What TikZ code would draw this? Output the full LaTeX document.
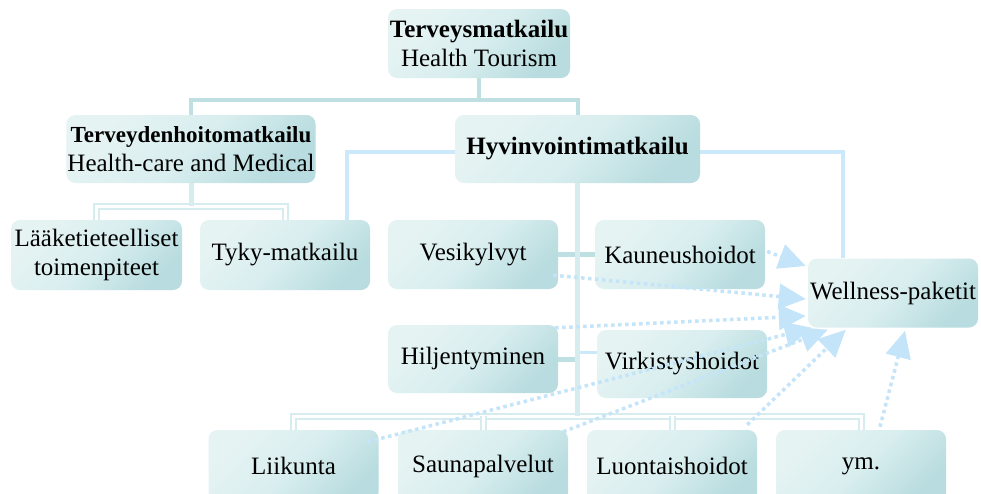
\documentclass[tikz,border=0pt]{standalone}
\usepackage{fontspec}
\setmainfont{Liberation Serif}
\usetikzlibrary{arrows.meta,calc,backgrounds}
\definecolor{boxlight}{HTML}{E6F3F3}
\definecolor{boxmid}{HTML}{D9EEEF}
\definecolor{boxdark}{HTML}{B8DCDF}
\definecolor{tealline}{HTML}{BFE0E3}
\definecolor{paleline}{HTML}{D6ECEE}
\definecolor{blueline}{HTML}{CBE9FA}
\definecolor{arrowblue}{HTML}{C4E5F9}
\begin{document}
\begin{tikzpicture}[x=1pt,y=-1pt,
  box/.style={rounded corners=9pt, top color=boxlight, bottom color=boxdark,
    middle color=boxmid, shading angle=45, minimum width=170pt,
    minimum height=69pt, inner sep=1pt, align=center,
    font=\fontsize{25}{29.5}\selectfont},
  conA/.style={draw=tealline, line width=4pt},
  conB/.style={draw=blueline, line width=4pt},
  conC/.style={draw=paleline, line width=2pt, double=white, double distance=3pt},
  dotarrow/.style={draw=arrowblue, line width=3.5pt, dash pattern=on 3.5pt off 3.5pt,
    -{Triangle[length=27pt,width=25pt,fill=arrowblue]}}]
\useasboundingbox (0,0) rectangle (981,493);

% bus coordinates
\coordinate (b1) at (479,100);
\coordinate (b2) at (191,206);
\coordinate (b3) at (577.5,416);

% nodes
\path (479,43.5) node[box, minimum width=182pt] (top) {\textbf{Terveysmatkailu}\\Health Tourism};
\path (191,149) node[box, minimum width=246pt, minimum height=68pt] (tdh) {{\fontsize{23}{29.5}\selectfont\textbf{Terveydenhoitomatkailu}}\\Health-care and Medical};
\path (577.5,149) node[box, minimum width=245pt, minimum height=68pt] (hyv) {\raisebox{-3pt}{\textbf{Hyvinvointimatkailu}}};
\path (96.5,255) node[box, minimum width=171pt, minimum height=70pt] (laak) {Lääketieteelliset\\toimenpiteet};
\path (285,255) node[box, minimum height=70pt] (tyky) {Tyky-matkailu};
\path (473,254.5) node[box] (vesi) {Vesikylvyt};
\path (680,254.5) node[box] (kaun) {Kauneushoidot};
\path (893,293) node[box] (well) {Wellness-paketit};
\path (473,359) node[box, minimum height=68pt] (hilj) {Hiljentyminen};
\path (682,364) node[box, minimum height=68pt] (virk) {Virkistyshoidot};
\path (293.5,466) node[box, minimum height=72pt] (liik) {Liikunta};
\path (483,466) node[box, minimum height=72pt] (sauna) {Saunapalvelut};
\path (672,466) node[box, minimum height=72pt] (luont) {Luontaishoidot};
\path (861,466) node[box, minimum height=72pt] (ym) {ym.};

% connectors behind the boxes
\begin{scope}[on background layer]
\fill[white] (0,0) rectangle (981,493);
\draw[conA] (top.south) -- (b1);
\draw[conA] (b1) -| (tdh.north);
\draw[conA] (b1) -| (hyv.north);
\draw[conC] (laak.north) |- (b2) -| (tyky.north);
\draw[conA, draw=paleline, line width=5pt] (tdh.south) -- (b2);
\draw[conB] ([yshift=-3pt]hyv.west) -| ([xshift=-23pt]tyky.north east);
\draw[conB] ([yshift=-3pt]hyv.east) -| ([xshift=-50pt]well.north);
\draw[conA, line width=5pt] (vesi.east) -- (kaun.west);
\draw[conA, line width=5pt] (hilj.east) -- (hilj.east -| hyv.south);
\draw[conB, line width=3pt] ([yshift=12pt]virk.west -| hyv.south) -- ([yshift=12pt]virk.west);
\draw[conC] (liik.north) |- (b3) -| (ym.north);
\draw[conC] (sauna.north) -- (sauna.north |- b3);
\draw[conC] (luont.north) -- (luont.north |- b3);
\draw[conA, draw=paleline, line width=5pt] (hyv.south) -- (b3);
\end{scope}

% dotted arrows to Wellness-paketit
\draw[dotarrow] ($(kaun.east)+(2,-3)$) -- ($(well.west)+(-2,-27)$);
\draw[dotarrow] ($(vesi.south east)+(-5,-14)$) -- ($(well.west)+(-2,6)$);
\draw[dotarrow] ($(hilj.north east)+(-3,3)$) -- ($(well.west)+(-2,23)$);
\draw[dotarrow] ($(liik.north east)+(-11,12)$) -- ($(well.south west)+(4,0)$);
\draw[dotarrow] ($(sauna.north east)+(-5,2)$) -- ($(well.south west)+(20,2)$);
\draw[dotarrow] ($(luont.north east)+(-10,-5)$) -- ($(well.south west)+(38,2)$);
\draw[dotarrow] ($(ym.north)+(19,-3)$) -- ($(well.south)+(12,3)$);
\end{tikzpicture}
\end{document}
